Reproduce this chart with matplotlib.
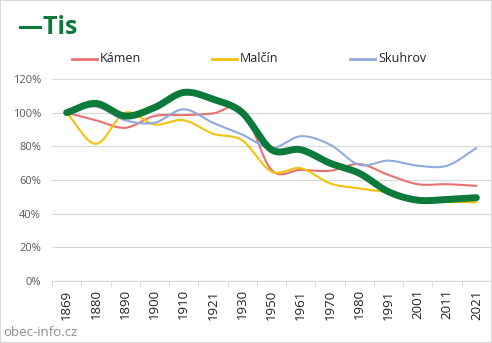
import numpy as np
import matplotlib
matplotlib.use("Agg")
import matplotlib.pyplot as plt
from matplotlib.lines import Line2D

plt.rcParams["font.family"] = ["Open Sans", "DejaVu Sans"]

years = ["1869", "1880", "1890", "1900", "1910", "1921", "1930", "1950",
         "1961", "1970", "1980", "1991", "2001", "2011", "2021"]
tis = [100, 105.5, 98, 103, 112, 108, 100, 78, 78, 70, 64, 53, 48, 48.5, 49.5]
kamen = [100, 95.5, 91, 98, 98.5, 99.5, 102, 66, 66, 65.5, 69.5, 63, 57.5, 57.5, 56.5]
malcin = [100, 81.5, 100, 93, 95.5, 87.5, 83.5, 65, 67, 58, 55, 52.5, 48, 47, 46.8]
skuhrov = [100, 103.5, 95.5, 94, 102, 94, 87, 79, 86, 81, 69, 71.5, 68.5, 68.5, 79]
yticks = [0, 20, 40, 60, 80, 100, 120]


def smooth(xs, ys, n=30):
    xs = np.asarray(xs, float)
    ys = np.asarray(ys, float)
    px = np.concatenate([[2 * xs[0] - xs[1]], xs, [2 * xs[-1] - xs[-2]]])
    py = np.concatenate([[2 * ys[0] - ys[1]], ys, [2 * ys[-1] - ys[-2]]])
    ox, oy = [], []
    t = np.linspace(0, 1, n, endpoint=False)
    for i in range(1, len(px) - 2):
        for P, out in ((px, ox), (py, oy)):
            p0, p1, p2, p3 = P[i - 1], P[i], P[i + 1], P[i + 2]
            out.extend(0.5 * ((2 * p1) + (-p0 + p2) * t
                              + (2 * p0 - 5 * p1 + 4 * p2 - p3) * t ** 2
                              + (-p0 + 3 * p1 - 3 * p2 + p3) * t ** 3))
    ox.append(xs[-1])
    oy.append(ys[-1])
    return np.array(ox), np.array(oy)


W, H = 492, 343
fig = plt.figure(figsize=(W / 100, H / 100), dpi=100)
ax = fig.add_axes([52 / W, 1 - 281 / H, 439 / W, 202 / H])

x = np.arange(len(years))
series = [
    (kamen, "#E8716F", 1.5, "Kámen", 2),
    (malcin, "#F4C20D", 1.5, "Malčín", 2),
    (skuhrov, "#8FAADC", 1.5, "Skuhrov", 2),
    (tis, "#0B7A3A", 5.0, "Tis", 3),
]
for vals, col, lw, lab, z in series:
    sx, sy = smooth(x, vals)
    ax.plot(sx, sy, color=col, lw=lw, zorder=z, solid_capstyle="round")

ax.set_xlim(-0.5, len(years) - 0.5)
ax.set_ylim(0, 120)
ax.set_yticks(yticks)
ax.set_yticklabels([f"{v}%" for v in yticks], color="#595959", fontsize=8)
ax.set_xticks(x)
ax.set_xticklabels(years, rotation=90, fontsize=9.5, color="#222222")
ax.set_xticks(np.arange(-0.5, len(years), 1), minor=True)
ax.tick_params(axis="x", which="major", length=0, pad=6)
ax.tick_params(axis="x", which="minor", length=4, color="#D9D9D9")
ax.tick_params(axis="y", length=0, pad=8)
ax.grid(axis="y", color="#D9D9D9", lw=0.9)
ax.set_axisbelow(True)
for s in ["top", "right", "left"]:
    ax.spines[s].set_visible(False)
ax.spines["bottom"].set_color("#D9D9D9")

# legend drawn manually
leg_y = 1 - 59 / H
for (vals, col, lw, lab, z), x0 in zip(series[:3], [72, 212, 350]):
    fig.add_artist(Line2D([x0 / W, (x0 + 25) / W], [leg_y, leg_y], color=col,
                          lw=2, transform=fig.transFigure))
    fig.text((x0 + 28) / W, leg_y, lab, fontsize=9, color="#222222",
             va="center", ha="left")

fig.text(18 / W, 1 - 27 / H, "—Tis", color="#0B7A3A", fontsize=18,
         fontweight="bold", va="center", ha="left")
fig.text(3 / W, 1 - 332 / H, "obec-info.cz", color="#8C8C8C", fontsize=9.5,
         va="center", ha="left")

fig.patches.append(plt.Rectangle((0, 0), 1, 1, transform=fig.transFigure,
                                 fill=False, edgecolor="#D9D9D9", lw=1.5))
fig.savefig("out.png", dpi=100)
